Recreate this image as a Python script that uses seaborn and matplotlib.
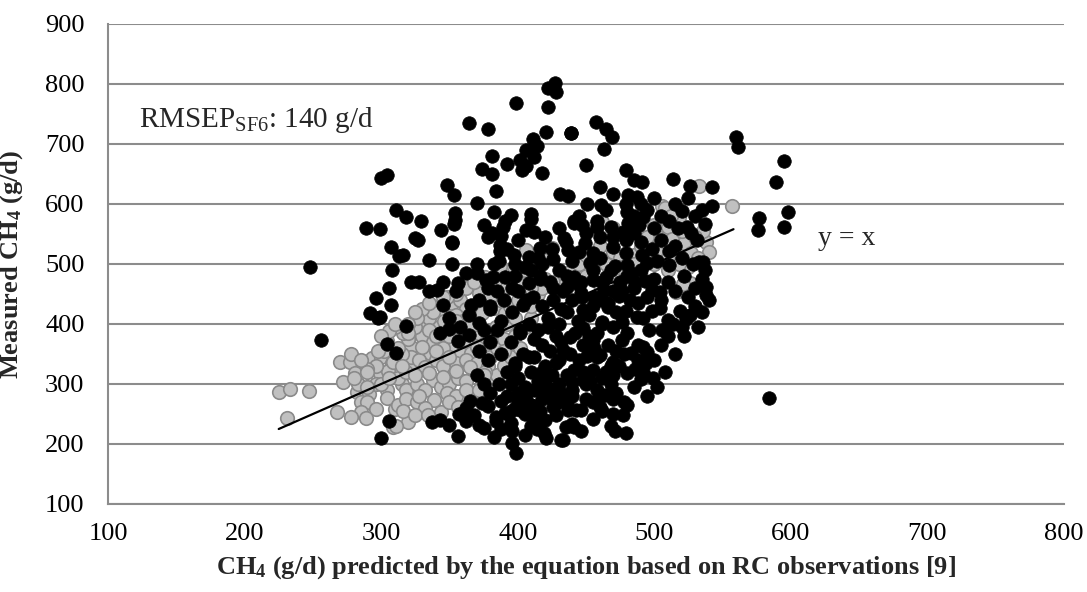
import matplotlib
matplotlib.use("Agg")
import matplotlib.pyplot as plt
import seaborn as sns
import pandas as pd

# ---- black series (RC-based prediction vs measured) ----
black_x = [
    248, 256, 289, 299, 300, 304, 311, 307, 313, 308,
    306, 296, 307, 292, 298, 304, 311, 306, 300, 316,
    427, 422, 428, 399, 422, 364, 378, 421, 439, 411,
    414, 406, 412, 402, 406, 403, 381, 374, 381, 392,
    418, 348, 353, 384, 431, 437, 370, 318, 329, 354,
    354, 353, 383, 395, 410, 410, 406, 412, 375, 381,
    389, 391, 388, 387, 387, 344, 352, 325, 335, 416,
    434, 441, 437, 397, 408, 457, 465, 469, 439, 463,
    560, 561, 595, 589, 450, 479, 485, 491, 514, 526,
    542, 460, 470, 481, 487, 451, 461, 479, 480, 542,
    577, 576, 598, 595, 441, 447, 458, 458, 468, 481,
    485, 492, 489, 477, 485, 511, 517, 524, 527, 531,
    537, 511, 511, 533, 537, 495, 435, 449, 455, 470,
    479, 490, 491, 479, 453, 471, 480, 483, 455, 465,
    441, 436, 446, 463, 474, 493, 498, 504, 538, 538,
    488, 498, 504, 519, 523, 510, 496, 487, 479, 466,
    448, 436, 476, 462, 448, 438, 455, 476, 492, 495,
    494, 483, 488, 480, 490, 499, 472, 477, 471, 479,
    455, 441, 446, 433, 437, 446, 460, 464, 440, 448,
    455, 465, 470, 441, 433, 451, 460, 584, 352, 370,
    383, 322, 341, 356, 355, 377, 382, 391, 299, 343,
    364, 364, 372, 375, 337, 343, 350, 356, 362, 362,
    365, 374, 378, 375, 388, 391, 396, 396, 399, 402,
    406, 410, 402, 411, 416, 419, 421, 414, 432, 435,
    440, 426, 436, 443, 424, 432, 440, 327, 352, 536,
    395, 400, 405, 410, 415, 420, 425, 430, 398, 404,
    412, 418, 424, 428, 395, 402, 408, 415, 422, 430,
    396, 404, 411, 418, 426, 433, 400, 408, 416, 424,
    430, 418, 426, 405, 398, 440, 445, 460, 468, 475,
    485, 495, 505, 515, 525, 530, 520, 510, 505, 515,
    500, 508, 502, 495, 485, 478, 468, 458, 450, 445,
    456, 466, 472, 480, 470, 458, 444, 452, 462, 470,
    455, 447, 440, 432, 445, 455, 462, 480, 490, 500,
    510, 522, 530, 535, 528, 520, 515, 505, 498, 502,
    390, 385, 380, 388, 385, 380, 388, 392, 386, 380,
    392, 384, 375, 370, 378, 372, 380, 372, 366, 378,
    398, 403, 400, 395, 405, 412, 420, 428, 418, 425,
    430, 436, 426, 420, 412, 405, 448, 453, 462, 470,
    474, 486, 492, 506, 514, 522, 535, 540, 526, 532,
    386, 392, 400, 378, 358, 350, 345, 362, 370, 398,
    410, 415, 425, 420, 450, 460, 445, 430, 465, 505,
    520, 530, 500, 495, 515, 525, 470, 500, 490, 535,
    405, 410, 395, 388, 383, 468, 462, 455, 480, 470,
    328, 335, 345, 318, 350, 356, 357, 368, 372, 384,
    398, 408, 418, 428, 438, 448, 458, 468, 478, 488,
    402, 412, 422, 432, 442, 452, 462, 472, 482, 492,
    396, 406, 416, 426, 436, 446, 456, 466, 476, 486,
    400, 410, 420, 430, 440, 450, 460, 470,
]
black_y = [
    495, 373, 560, 558, 643, 648, 590, 528, 513, 490,
    460, 443, 432, 419, 410, 367, 352, 239, 210, 515,
    802, 793, 786, 769, 761, 735, 725, 720, 718, 708,
    697, 690, 678, 673, 663, 657, 680, 658, 650, 667,
    651, 631, 615, 622, 617, 613, 602, 578, 571, 585,
    573, 566, 586, 582, 583, 575, 557, 554, 565, 551,
    562, 571, 546, 532, 521, 557, 537, 543, 507, 527,
    543, 568, 523, 515, 512, 736, 725, 712, 719, 691,
    712, 695, 672, 637, 665, 657, 640, 637, 641, 630,
    628, 628, 617, 615, 611, 600, 598, 600, 587, 597,
    576, 557, 587, 562, 571, 565, 571, 562, 561, 568,
    580, 578, 565, 554, 552, 571, 560, 562, 551, 540,
    567, 521, 498, 504, 490, 501, 537, 535, 518, 529,
    540, 537, 515, 518, 501, 496, 498, 485, 473, 479,
    479, 462, 451, 457, 446, 471, 457, 454, 462, 448,
    435, 422, 426, 422, 408, 407, 390, 412, 422, 429,
    423, 420, 404, 404, 393, 379, 373, 373, 362, 354,
    335, 351, 340, 319, 308, 310, 285, 248, 221, 219,
    241, 229, 221, 207, 257, 256, 262, 282, 290, 307,
    323, 320, 337, 323, 357, 346, 349, 277, 500, 500,
    500, 470, 456, 468, 455, 473, 479, 479, 412, 385,
    415, 382, 401, 390, 236, 240, 232, 213, 238, 260,
    271, 268, 264, 226, 271, 251, 221, 201, 185, 268,
    273, 265, 257, 253, 255, 218, 210, 225, 207, 228,
    233, 261, 270, 257, 291, 285, 303, 540, 535, 504,
    300, 310, 295, 320, 305, 330, 315, 340, 335, 350,
    345, 365, 355, 380, 370, 385, 400, 390, 410, 400,
    420, 432, 445, 430, 440, 455, 455, 468, 480, 470,
    490, 500, 508, 495, 480, 505, 520, 510, 490, 470,
    460, 445, 440, 455, 445, 430, 395, 380, 365, 350,
    340, 320, 295, 280, 295, 270, 300, 290, 275, 340,
    360, 365, 355, 385, 395, 385, 405, 415, 440, 455,
    430, 445, 440, 425, 465, 490, 470, 480, 490, 475,
    470, 480, 460, 475, 500, 510, 530, 540, 525, 505,
    440, 455, 425, 405, 390, 370, 350, 320, 300, 285,
    280, 245, 300, 315, 340, 355, 430, 440, 432, 460,
    260, 262, 272, 255, 250, 240, 240, 248, 275, 275,
    300, 315, 290, 285, 290, 280, 320, 305, 310, 315,
    330, 325, 320, 390, 400, 380, 420, 440, 415, 395,
    505, 525, 540, 545, 395, 410, 470, 485, 485, 500,
    490, 510, 525, 545, 552, 545, 580, 560, 590, 580,
    588, 580, 560, 590, 600, 610, 545, 610, 600, 590,
    215, 230, 235, 225, 212, 230, 255, 270, 265, 275,
    470, 455, 432, 397, 392, 372, 250, 248, 232, 238,
    330, 345, 320, 335, 350, 365, 345, 330, 350, 365,
    390, 375, 395, 370, 385, 380, 400, 420, 440, 410,
    460, 440, 475, 460, 480, 470, 445, 435, 455, 470,
    285, 265, 300, 270, 280, 300, 280, 250,
]

# ---- grey series ----
grey_x = [
    225, 233, 247, 231, 270, 277, 281, 272, 293, 300,
    308, 299, 305, 282, 289, 291, 285, 290, 296, 285,
    289, 278, 268, 304, 310, 304, 309, 369, 381, 341,
    348, 330, 304, 309, 322, 336, 324, 338, 350, 358,
    366, 368, 374, 339, 344, 320, 311, 366, 372, 375,
    383, 391, 387, 397, 406, 425, 421, 432, 426, 533,
    557, 506, 508, 518, 510, 503, 513, 522, 527, 538,
    503, 495, 516, 526, 521, 536, 283, 296, 278, 315,
    312, 318, 322, 328, 315, 320, 330, 338, 342, 335,
    345, 352, 358, 362, 355, 360, 368, 374, 365, 372,
    360, 352, 345, 340, 332, 345, 355, 362, 370, 378,
    380, 385, 376, 390, 384, 392, 398, 394, 387, 380,
    362, 355, 348, 368, 376, 384, 392, 400, 408, 414,
    318, 326, 332, 344, 350, 356, 362, 348, 355, 362,
    372, 380, 385, 376, 390, 395, 402, 398, 405, 410,
    312, 318, 326, 332, 316, 325, 334, 350, 356, 328,
    410, 415, 405, 418, 420, 430, 435, 440, 445, 450,
    460, 470, 475, 485, 490, 480, 470, 455, 462, 495,
    500, 512, 520, 530, 540, 532, 525, 518, 510, 500,
    490, 480, 470, 460, 450, 465, 455, 475, 485, 510,
    300, 306, 296, 290, 285, 302, 312, 316, 325, 335,
    340, 350, 346, 338, 330, 326, 320, 310, 306, 290,
    315, 325, 335, 345, 355, 365, 375, 320, 330, 340,
    350, 360, 370, 380, 390, 325, 335, 345, 355, 365,
    400, 410, 395, 405, 415, 300, 310, 280, 290, 298,
]
grey_y = [
    286, 291, 288, 243, 337, 336, 318, 303, 343, 345,
    335, 319, 322, 287, 287, 284, 270, 270, 259, 254,
    243, 245, 254, 290, 258, 276, 229, 462, 451, 429,
    407, 393, 372, 337, 362, 351, 329, 307, 323, 351,
    352, 318, 301, 273, 254, 237, 230, 284, 452, 429,
    427, 418, 496, 495, 523, 526, 506, 486, 470, 630,
    596, 597, 593, 578, 562, 545, 541, 535, 518, 537,
    518, 520, 454, 468, 466, 555, 300, 300, 350, 300,
    310, 320, 345, 340, 350, 375, 380, 370, 395, 410,
    420, 435, 440, 425, 415, 405, 410, 418, 395, 385,
    375, 365, 360, 340, 328, 330, 335, 340, 335, 330,
    345, 360, 368, 375, 395, 400, 410, 430, 440, 445,
    460, 450, 445, 470, 478, 470, 462, 470, 478, 490,
    290, 300, 290, 295, 300, 310, 305, 285, 280, 290,
    290, 300, 315, 320, 330, 345, 360, 380, 395, 410,
    265, 275, 270, 260, 255, 248, 248, 270, 262, 280,
    430, 450, 445, 460, 475, 455, 470, 490, 500, 515,
    530, 520, 510, 515, 530, 545, 560, 560, 570, 545,
    565, 580, 555, 545, 520, 510, 495, 500, 512, 500,
    480, 470, 480, 465, 480, 500, 500, 495, 500, 490,
    300, 310, 330, 325, 340, 355, 360, 385, 395, 390,
    380, 380, 405, 420, 425, 410, 400, 395, 388, 295,
    330, 315, 318, 312, 322, 328, 315, 385, 362, 355,
    345, 372, 362, 378, 355, 420, 435, 445, 405, 395,
    440, 460, 475, 490, 505, 380, 400, 310, 320, 355,
]

# ---- y = x reference segment ----
line_x = [225, 558]
line_y = [225, 558]

x_ticks = [100, 200, 300, 400, 500, 600, 700, 800]
y_ticks = [100, 200, 300, 400, 500, 600, 700, 800, 900]

assert len(black_x) == len(black_y)
assert len(grey_x) == len(grey_y)

sns.set_theme(style="white")
plt.rcParams["font.family"] = ["Liberation Serif", "DejaVu Serif"]
plt.rcParams["mathtext.fontset"] = "custom"
plt.rcParams["mathtext.rm"] = "Liberation Serif"
plt.rcParams["mathtext.it"] = "Liberation Serif:italic"
plt.rcParams["mathtext.bf"] = "Liberation Serif:bold"

W, H = 1087, 592
fig = plt.figure(figsize=(W / 100, H / 100), dpi=100)
ax = fig.add_axes([108 / W, 1 - 504 / H, (1064 - 108) / W, (504 - 24) / H])

grid_c = "#8c8c8c"
ax.set_axisbelow(True)
ax.yaxis.grid(True, color=grid_c, lw=1.5)
ax.xaxis.grid(False)

grey_df = pd.DataFrame({"x": grey_x, "y": grey_y})
black_df = pd.DataFrame({"x": black_x, "y": black_y})

sns.scatterplot(data=grey_df, x="x", y="y", ax=ax, s=95, color="#c0c0c0",
                edgecolor="#8a8a8a", linewidth=1.2, zorder=2, legend=False)
sns.lineplot(x=line_x, y=line_y, ax=ax, color="black", lw=1.6, zorder=3)
sns.scatterplot(data=black_df, x="x", y="y", ax=ax, s=95, color="black",
                edgecolor="black", linewidth=0.5, zorder=4, legend=False)

ax.set_xlim(100, 800)
ax.set_ylim(100, 900)
ax.set_xticks(x_ticks)
ax.set_yticks(y_ticks)
ax.tick_params(axis="both", labelsize=19, colors="black")
ax.tick_params(axis="y", length=8, width=1.5, color=grid_c, direction="out", pad=9)
ax.tick_params(axis="x", length=0, pad=14)

for side in ["top", "right"]:
    ax.spines[side].set_visible(False)
for side in ["left", "bottom"]:
    ax.spines[side].set_color(grid_c)
    ax.spines[side].set_linewidth(1.5)

ax.set_xlabel(r"CH$_\mathbf{4}$ (g/d) predicted by the equation based on RC observations [9]",
              fontsize=19, fontweight="bold", labelpad=6)
ax.set_ylabel(r"Measured CH$_\mathbf{4}$ (g/d)", fontsize=19, fontweight="bold", labelpad=14)

ax.text(123, 728, r"RMSEP$_{\mathrm{SF6}}$: 140 g/d", fontsize=21, va="baseline", ha="left")
ax.text(641, 543, "y = x", fontsize=20, va="center", ha="center")

fig.savefig("out.png", dpi=100)
